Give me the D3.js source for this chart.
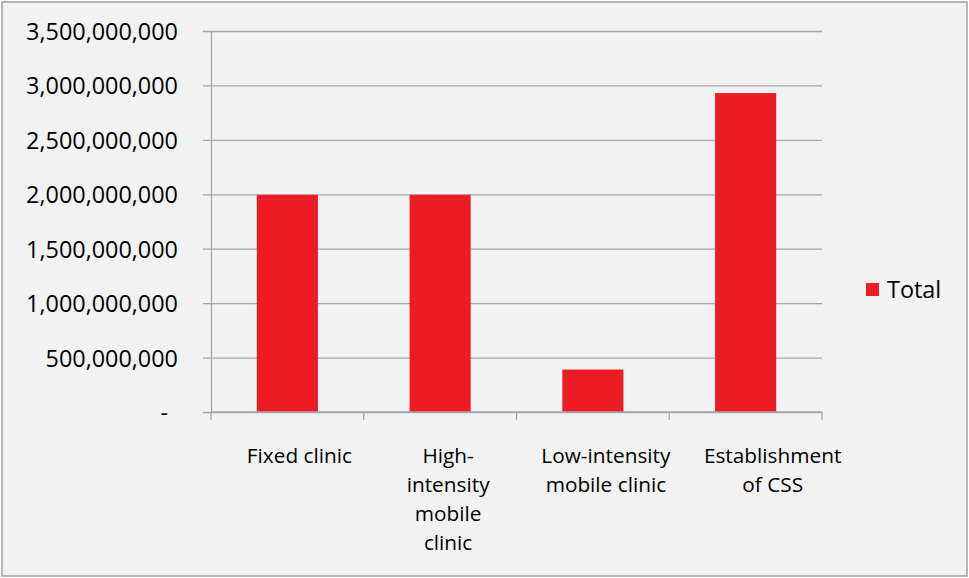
<!DOCTYPE html>
<html>
<head>
<meta charset="utf-8">
<script src="https://cdn.jsdelivr.net/npm/d3@7"></script>
<style>
  html, body { margin: 0; padding: 0; background: #ffffff; }
  svg { display: block; }
  text { font-family: "Open Sans", sans-serif; fill: #000; }
</style>
</head>
<body>
<script>
// Cost by programme component
const categories = [
  ["Fixed clinic"],
  ["High-", "intensity", "mobile", "clinic"],
  ["Low-intensity", "mobile clinic"],
  ["Establishment", "of CSS"]
];
const totals = [1995000000, 1995000000, 390000000, 2930000000];
const yTicks = [0, 500000000, 1000000000, 1500000000, 2000000000, 2500000000, 3000000000, 3500000000];
const seriesName = "Total";

const W = 969, H = 578;
const plot = { left: 211, right: 822, top: 31, bottom: 412 };
const barColor = "#ed1c24";
const gridColor = "#a6a6a6";

const svg = d3.select("body").append("svg").attr("width", W).attr("height", H);

// chart area background and frame
svg.append("rect")
  .attr("x", 2).attr("y", 2).attr("width", W - 4).attr("height", H - 4)
  .attr("fill", "#f2f2f2").attr("stroke", "#a0a0a0").attr("stroke-width", 1.5);

const x = d3.scaleBand()
  .domain(d3.range(categories.length))
  .range([plot.left, plot.right])
  .paddingInner(0.6).paddingOuter(0.3);

const y = d3.scaleLinear()
  .domain([0, 3500000000])
  .range([plot.bottom, plot.top]);

const fmt = d3.format(",");

// horizontal gridlines with outward tick marks
const yAxis = d3.axisLeft(y)
  .tickValues(yTicks)
  .tickSize(-(plot.right - plot.left))
  .tickSizeOuter(0)
  .tickFormat(d => d === 0 ? "-" : fmt(d));

const yg = svg.append("g")
  .attr("transform", `translate(${plot.left},0)`)
  .call(yAxis);
yg.select(".domain").attr("stroke", gridColor).attr("stroke-width", 1.3);
yg.selectAll(".tick line")
  .attr("x1", -8)
  .attr("stroke", gridColor).attr("stroke-width", 1.3);
yg.selectAll(".tick text")
  .attr("x", -33)
  .attr("dy", "0.36em")
  .style("font-size", "23.4px")
  .attr("text-anchor", "end")
  .attr("dx", d => d === 0 ? "-10px" : 0);

// bars
svg.append("g").selectAll("rect")
  .data(totals)
  .join("rect")
  .attr("x", (d, i) => x(i))
  .attr("width", x.bandwidth())
  .attr("y", d => y(d))
  .attr("height", d => y(0) - y(d))
  .attr("fill", barColor);

// category boundary ticks below the baseline
const boundaries = d3.range(categories.length + 1).map(i => plot.left + i * (plot.right - plot.left) / categories.length);
svg.append("g").selectAll("line")
  .data(boundaries)
  .join("line")
  .attr("x1", d => d).attr("x2", d => d)
  .attr("y1", plot.bottom).attr("y2", plot.bottom + 8)
  .attr("stroke", gridColor).attr("stroke-width", 1.3);

// baseline
svg.append("line")
  .attr("x1", plot.left).attr("x2", plot.right)
  .attr("y1", plot.bottom).attr("y2", plot.bottom)
  .attr("stroke", gridColor).attr("stroke-width", 1.3);

// category labels (wrapped text sits slightly right of the band centre)
const labelNudge = [12, 8, 13, 27];
const labels = svg.append("g").selectAll("text")
  .data(categories)
  .join("text")
  .attr("text-anchor", "middle")
  .style("font-size", "20.8px")
  .attr("transform", (d, i) => `translate(${x(i) + x.bandwidth() / 2 + labelNudge[i]},463)`);
labels.selectAll("tspan")
  .data(d => d)
  .join("tspan")
  .attr("x", 0)
  .attr("y", (d, i) => i * 29)
  .text(d => d);

// legend
const lg = svg.append("g").attr("transform", "translate(866,283)");
lg.append("rect").attr("width", 13).attr("height", 13).attr("fill", barColor);
lg.append("text")
  .attr("x", 21).attr("y", 6.5).attr("dy", "0.36em")
  .style("font-size", "23.4px")
  .text(seriesName);
</script>
</body>
</html>
